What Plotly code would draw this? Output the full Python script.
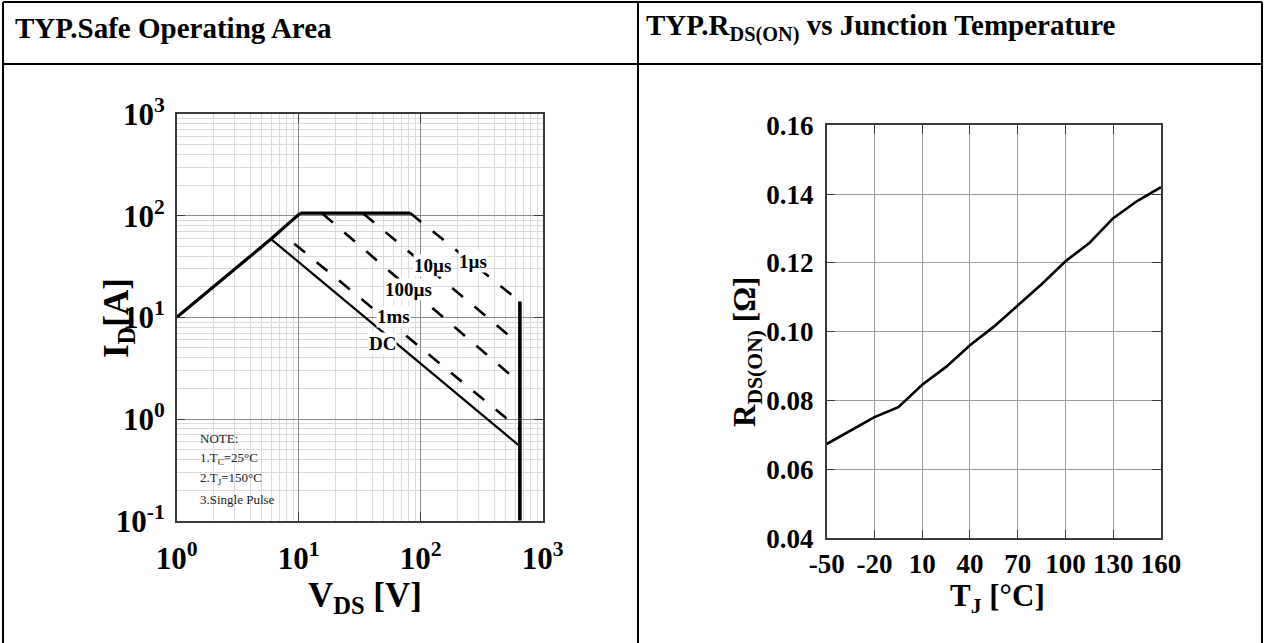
import numpy as np
import plotly.graph_objects as go

W, H = 1264, 643
FONT = "Liberation Serif"

# ---------------- data: Safe Operating Area ----------------
rds_limit_v = [1.0, 5.93, 10.3]
rds_limit_i = [10.0, 58.9, 106.0]
current_limit_v = [10.3, 82.0]
current_limit_i = [106.0, 106.0]
dc_v = [5.93, 650.0]
dc_i = [58.9, 0.54]
bvdss_v = [650.0, 650.0]
bvdss_i = [14.3, 0.1]
pulse_names = ["1µs", "10µs", "100µs", "1ms"]
pulse_start_v = [82.0, 33.8, 15.6, 9.2]
pulse_start_i = [106.0, 105.0, 105.0, 53.0]
pulse_end_v = [650.0, 650.0, 650.0, 650.0]
pulse_end_i = [14.3, 5.4, 2.26, 0.79]
label_texts = ["1µs", "10µs", "100µs", "1ms", "DC"]
label_v = [269.0, 124.7, 79.6, 60.0, 49.0]
label_i = [35.2, 32.3, 18.6, 10.2, 5.53]
soa_xticks = [1, 10, 100, 1000]
soa_xticktext = ["10<sup>0</sup>", "10<sup>1</sup>", "10<sup>2</sup>", "10<sup>3</sup>"]
soa_yticks = [0.1, 1, 10, 100, 1000]
soa_yticktext = ["10<sup>-1</sup>", "10<sup>0</sup>", "10<sup>1</sup>", "10<sup>2</sup>", "10<sup>3</sup>"]
notes = ["NOTE:", "1.T<sub>C</sub>=25°C", "2.T<sub>J</sub>=150°C", "3.Single Pulse"]

# ---------------- data: RDS(on) vs Tj ----------------
tj = [-50, -35, -20, -5, 10, 25, 40, 55, 70, 85, 100, 115, 130, 145, 160]
rdson = [0.0674, 0.0713, 0.0752, 0.0781, 0.0846, 0.0898, 0.0961, 0.1015,
         0.1077, 0.1138, 0.1205, 0.1258, 0.1330, 0.1380, 0.1420]
tj_ticks = [-50, -20, 10, 40, 70, 100, 130, 160]
tj_ticktext = ["-50", "-20", "10", "40", "70", "100", "130", "160"]
r_ticks = [0.04, 0.06, 0.08, 0.10, 0.12, 0.14, 0.16]
r_ticktext = ["0.04", "0.06", "0.08", "0.10", "0.12", "0.14", "0.16"]


def px(x):
    return x / W


def py(y):
    return 1 - y / H


minor_x = [m * 10 ** d for d in range(0, 3) for m in range(2, 10)]
minor_y = [m * 10 ** d for d in range(-1, 3) for m in range(2, 10)]

fig = go.Figure()

line_kw = dict(mode="lines", showlegend=False, hoverinfo="skip", xaxis="x", yaxis="y")
fig.add_trace(go.Scatter(x=rds_limit_v, y=rds_limit_i, line=dict(color="black", width=3.2), **line_kw))
fig.add_trace(go.Scatter(x=current_limit_v, y=current_limit_i, line=dict(color="black", width=3.2), **line_kw))
fig.add_trace(go.Scatter(x=dc_v, y=dc_i, line=dict(color="black", width=2.2), **line_kw))
for sv, si, ev, ei in zip(pulse_start_v, pulse_start_i, pulse_end_v, pulse_end_i):
    fig.add_trace(go.Scatter(x=[sv, ev], y=[si, ei],
                             line=dict(color="black", width=2.6, dash="14px,15px"), **line_kw))
fig.add_trace(go.Scatter(x=bvdss_v, y=bvdss_i, line=dict(color="black", width=3.6), **line_kw))

fig.add_trace(go.Scatter(x=tj, y=rdson, mode="lines", showlegend=False, hoverinfo="skip",
                         line=dict(color="black", width=2.6), xaxis="x2", yaxis="y2"))

ann = []
for t, v, i in zip(label_texts, label_v, label_i):
    ann.append(dict(x=np.log10(v), y=np.log10(i), xref="x", yref="y", text="<b>%s</b>" % t,
                    showarrow=False, bgcolor="white", borderpad=0,
                    xanchor="center", yanchor="middle",
                    font=dict(family=FONT, size=19, color="black")))
for k, t in enumerate(notes):
    ann.append(dict(x=px(198), y=py(438 + k * 20.4), xref="paper", yref="paper", text=t,
                    showarrow=False, xanchor="left", yanchor="middle",
                    font=dict(family=FONT, size=13, color="#222")))

# headers
ann.append(dict(x=px(13), y=py(28), xref="paper", yref="paper", xanchor="left", yanchor="middle",
                text="<b>TYP.Safe Operating Area</b>", showarrow=False,
                font=dict(family=FONT, size=29, color="black")))
ann.append(dict(x=px(644), y=py(28), xref="paper", yref="paper", xanchor="left", yanchor="middle",
                text="<b>TYP.R<sub>DS(ON)</sub> vs Junction Temperature</b>", showarrow=False,
                font=dict(family=FONT, size=29, color="black")))

# axis titles
ann.append(dict(x=px(118), y=py(318), xref="paper", yref="paper", textangle=-90,
                xanchor="center", yanchor="middle",
                text="<b>I<sub>D</sub>[A]</b>", showarrow=False,
                font=dict(family=FONT, size=35, color="black")))
ann.append(dict(x=px(365), y=py(597), xref="paper", yref="paper",
                xanchor="center", yanchor="middle",
                text="<b>V<sub>DS</sub> [V]</b>", showarrow=False,
                font=dict(family=FONT, size=35, color="black")))
ann.append(dict(x=px(747), y=py(352), xref="paper", yref="paper", textangle=-90,
                xanchor="center", yanchor="middle",
                text="<b>R<sub>DS(ON)</sub> [Ω]</b>", showarrow=False,
                font=dict(family=FONT, size=31, color="black")))
ann.append(dict(x=px(997), y=py(598), xref="paper", yref="paper",
                xanchor="center", yanchor="middle",
                text="<b>T<sub>J</sub> [°C]</b>", showarrow=False,
                font=dict(family=FONT, size=31, color="black")))

tick_font_l = dict(family=FONT, size=31, color="black", weight="bold")
tick_font_r = dict(family=FONT, size=27, color="black", weight="bold")
axis_common = dict(showline=True, linecolor="#3a3a3a", linewidth=1.5, mirror="ticks",
                   ticks="inside", ticklen=9, tickcolor="#3a3a3a", tickwidth=1.3, zeroline=False,
                   automargin=False)

fig.update_layout(
    template="none",
    width=W, height=H, margin=dict(l=0, r=0, t=0, b=0, pad=0, autoexpand=False),
    paper_bgcolor="white", plot_bgcolor="white",
    xaxis=dict(type="log", range=[0, 3], domain=[px(176.7), px(542.7)], anchor="y",
               tickvals=soa_xticks, ticktext=soa_xticktext, tickfont=tick_font_l,
               ticklabelstandoff=9, gridcolor="#8a8a8a", gridwidth=1.2,
               minor=dict(tickvals=minor_x, showgrid=True, gridcolor="#dadada", gridwidth=1, ticks=""),
               **axis_common),
    yaxis=dict(type="log", range=[-1, 3], domain=[py(520.7), py(114)], anchor="x",
               tickvals=soa_yticks, ticktext=soa_yticktext, tickfont=tick_font_l,
               ticklabelstandoff=4, gridcolor="#8a8a8a", gridwidth=1.2,
               minor=dict(tickvals=minor_y, showgrid=True, gridcolor="#dadada", gridwidth=1, ticks=""),
               **axis_common),
    xaxis2=dict(range=[-50, 160], domain=[px(826.7), px(1161)], anchor="y2",
                tickvals=tj_ticks, ticktext=tj_ticktext, tickfont=tick_font_r, ticklabelstandoff=1,
                gridcolor="#9c9c9c", gridwidth=1.2, **axis_common),
    yaxis2=dict(range=[0.04, 0.16], domain=[py(538.3), py(125.3)], anchor="x2",
                tickvals=r_ticks, ticktext=r_ticktext, tickfont=tick_font_r, ticklabelstandoff=6,
                gridcolor="#9c9c9c", gridwidth=1.2, **axis_common),
    annotations=ann,
    shapes=[
        dict(type="line", xref="paper", yref="paper", x0=px(3), x1=px(1262), y0=py(2), y1=py(2),
             line=dict(color="black", width=2)),
        dict(type="line", xref="paper", yref="paper", x0=px(3), x1=px(1262), y0=py(64), y1=py(64),
             line=dict(color="black", width=2)),
        dict(type="line", xref="paper", yref="paper", x0=px(3), x1=px(3), y0=py(2), y1=py(643),
             line=dict(color="black", width=2)),
        dict(type="line", xref="paper", yref="paper", x0=px(638), x1=px(638), y0=py(2), y1=py(643),
             line=dict(color="black", width=2)),
        dict(type="line", xref="paper", yref="paper", x0=px(1262), x1=px(1262), y0=py(2), y1=py(643),
             line=dict(color="black", width=2)),
    ],
)

fig.write_html("out.html", config={"displayModeBar": False},
               post_script="document.body.style.margin='0';document.body.style.overflow='hidden';")
